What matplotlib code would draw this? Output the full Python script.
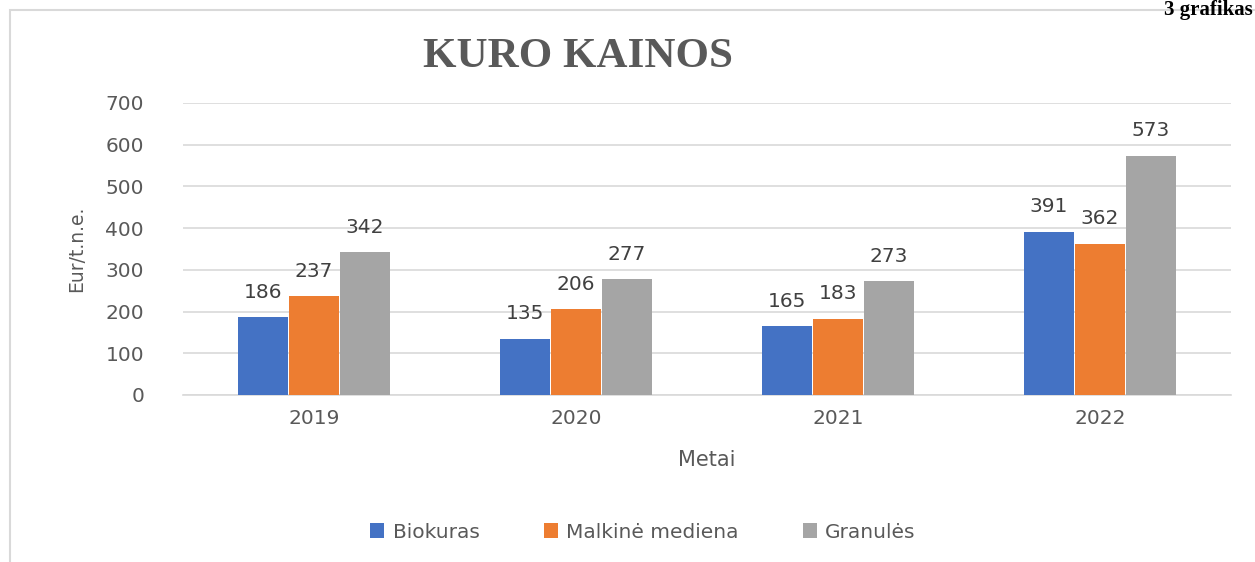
import numpy as np
import matplotlib.pyplot as plt
from matplotlib.patches import Rectangle

years = ["2019", "2020", "2021", "2022"]
series = ["Biokuras", "Malkinė mediena", "Granulės"]
biokuras = [186, 135, 165, 391]
malkine = [237, 206, 183, 362]
granules = [342, 277, 273, 573]
values = [biokuras, malkine, granules]
colors = ["#4472C4", "#ED7D31", "#A5A5A5"]

txt = "#595959"

fig = plt.figure(figsize=(12.55, 5.62), dpi=100)
ax = fig.add_axes([183 / 1255, 167 / 562, 1048 / 1255, 292 / 562])

# outer chart frame
fig.patches.append(Rectangle((10 / 1255, -0.1), 1.2, (562 - 10) / 562 + 0.1,
                             transform=fig.transFigure, fill=False,
                             edgecolor="#d9d9d9", lw=1.5))

x = np.arange(len(years))
w = 0.19
for i, (name, vals, c) in enumerate(zip(series, values, colors)):
    pos = x + (i - 1) * 0.195
    ax.bar(pos, vals, width=w, color=c, label=name, zorder=3)
    for px, v in zip(pos, vals):
        ax.annotate(str(v), (px, v), xytext=(0, 18), textcoords="offset points",
                    ha="center", va="center", fontsize=14.5, color="#404040")

ax.set_xlim(-0.5, 3.5)
ax.set_ylim(0, 700)
ax.set_yticks(range(0, 701, 100))
ax.set_xticks(x)
ax.set_xticklabels(years)
ax.grid(axis="y", color="#d9d9d9", lw=1.2, zorder=0)
for s in ["top", "right", "left"]:
    ax.spines[s].set_visible(False)
ax.spines["bottom"].set_color("#d9d9d9")
ax.spines["bottom"].set_linewidth(1.2)
ax.tick_params(length=0, labelsize=14.5, colors=txt, pad=10)
ax.tick_params(axis="y", pad=28)

ax.set_ylabel("Eur/t.n.e.", fontsize=13.5, color=txt, labelpad=14)
ax.set_xlabel("Metai", fontsize=15, color=txt, labelpad=16)

fig.text(578 / 1255, 1 - 57 / 562, "KURO KAINOS", ha="center", va="center",
         fontsize=31, fontweight="bold", family="Liberation Serif", color=txt)
fig.text(1253 / 1255, 1.0, "3 grafikas", ha="right", va="top",
         fontsize=15, fontweight="bold", family="Liberation Serif", color="black")

fig.legend(loc="center", bbox_to_anchor=(643 / 1255, 1 - 532 / 562), ncol=3,
           frameon=False, fontsize=14.5, handlelength=0.7, handleheight=0.7,
           columnspacing=3.2, handletextpad=0.4, labelcolor=txt)

fig.savefig("out.png", dpi=100)
